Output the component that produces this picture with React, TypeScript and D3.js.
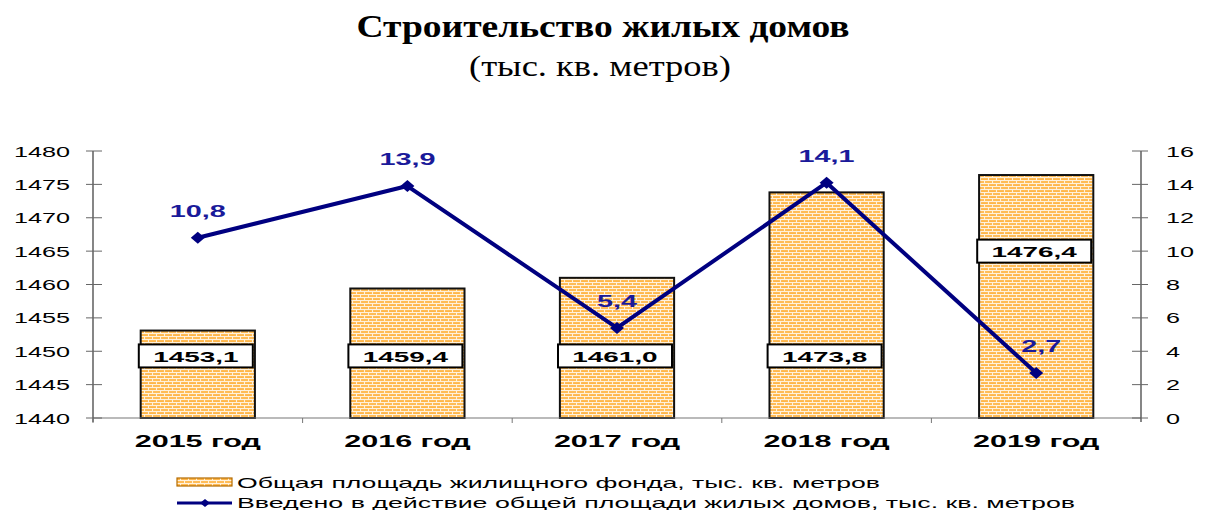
import React from "react";
import * as d3 from "d3";

const categories = ["2015 год", "2016 год", "2017 год", "2018 год", "2019 год"];
const totalArea = [1453.1, 1459.4, 1461.0, 1473.8, 1476.4];
const commissioned = [10.8, 13.9, 5.4, 14.1, 2.7];
const leftTicks = [1440, 1445, 1450, 1455, 1460, 1465, 1470, 1475, 1480];
const rightTicks = [0, 2, 4, 6, 8, 10, 12, 14, 16];
const barLabelLevel = [1449.3, 1449.3, 1449.3, 1449.3, 1465];
const legendLabels = [
  "Общая площадь жилищного фонда, тыс. кв. метров",
  "Введено в действие общей площади жилых домов, тыс. кв. метров",
];

const W = 1208;
const H = 510;
const left = 93;
const right = 1141;
const top = 151;
const bottom = 418;
const SANS = "'Liberation Sans', Arial, sans-serif";
const SERIF = "'Liberation Serif', 'Times New Roman', serif";
const NAVY = "#000080";

const fmt = (v: number) => d3.format(".1f")(v).replace(".", ",");

function SText(props: {
  x: number; y: number; sx?: number; size: number; anchor?: string;
  weight?: string | number; fill?: string; children: React.ReactNode;
}) {
  const { x, y, sx = 1.8, size, anchor = "middle", weight = "normal", fill = "#000", children } = props;
  return (
    <text
      transform={`translate(${x},${y}) scale(${sx},1)`}
      textAnchor={anchor}
      fontFamily={SANS}
      fontSize={size}
      fontWeight={weight}
      fill={fill}
    >
      {children}
    </text>
  );
}

export default function App() {
  const x = d3.scaleBand<string>().domain(categories).range([left, right]).paddingInner(0.455).paddingOuter(0.2275);
  const yL = d3.scaleLinear().domain([1440, 1480]).range([bottom, top]);
  const yR = d3.scaleLinear().domain([0, 16]).range([bottom, top]);
  const cx = (c: string) => (x(c) as number) + x.bandwidth() / 2;

  const line = d3
    .line<number>()
    .x((_, i) => cx(categories[i]))
    .y((d) => yR(d));

  const diamond = (px: number, py: number, w = 7, h = 6) =>
    `M${px - w},${py} L${px},${py - h} L${px + w},${py} L${px},${py + h} Z`;

  return (
    <svg width={W} height={H} style={{ position: "absolute", left: 0, top: 0, background: "#fff" }}>
      <defs>
        <pattern id="brick" width="8" height="6" patternUnits="userSpaceOnUse">
          <rect width="8" height="6" fill="#FFB648" />
          <line x1="0" y1="0.5" x2="8" y2="0.5" stroke="#FFF1DC" strokeWidth="1.2" />
          <line x1="0" y1="3.5" x2="8" y2="3.5" stroke="#FFF1DC" strokeWidth="1.2" />
          <line x1="0.5" y1="0" x2="0.5" y2="3" stroke="#FFF1DC" strokeWidth="1.1" />
          <line x1="4.5" y1="3" x2="4.5" y2="6" stroke="#FFF1DC" strokeWidth="1.1" />
        </pattern>
      </defs>

      {/* Title */}
      <text x={603} y={37} textAnchor="middle" fontFamily={SERIF} fontWeight="bold" fontSize={32}
        textLength={493} lengthAdjust="spacingAndGlyphs">
        Строительство жилых домов
      </text>
      <text x={600} y={76} textAnchor="middle" fontFamily={SERIF} fontSize={30}
        textLength={262} lengthAdjust="spacingAndGlyphs">
        (тыс. кв. метров)
      </text>

      {/* Bars */}
      {totalArea.map((v, i) => (
        <rect key={i} x={x(categories[i])} y={yL(v)} width={x.bandwidth()} height={bottom - yL(v)}
          fill="url(#brick)" stroke="#111" strokeWidth={2} />
      ))}

      {/* Axes */}
      <line x1={left} x2={right} y1={bottom} y2={bottom} stroke="#777" strokeWidth={1.2} />
      <line x1={left} x2={left} y1={top} y2={bottom + 4} stroke="#444" strokeWidth={1.3} />
      <line x1={right} x2={right} y1={top} y2={bottom + 4} stroke="#444" strokeWidth={1.3} />
      {leftTicks.map((t) => (
        <g key={"l" + t}>
          <line x1={left - 7} x2={left + 9} y1={yL(t)} y2={yL(t)} stroke="#666" strokeWidth={1} />
          <SText x={70} y={yL(t) + 5.5} size={14} anchor="end">{t}</SText>
        </g>
      ))}
      {rightTicks.map((t) => (
        <g key={"r" + t}>
          <line x1={right - 9} x2={right + 7} y1={yR(t)} y2={yR(t)} stroke="#666" strokeWidth={1} />
          <SText x={1166} y={yR(t) + 5.5} size={14} anchor="start">{t}</SText>
        </g>
      ))}
      {categories.map((c) => (
        <g key={c}>
          <line x1={(x(c) as number) - x.step() * x.paddingInner() / 2} x2={(x(c) as number) - x.step() * x.paddingInner() / 2}
            y1={bottom} y2={bottom + 5} stroke="#777" />
          <SText x={cx(c)} y={447} size={16.5} weight="bold" sx={1.85}>{c}</SText>
        </g>
      ))}

      {/* Bar labels */}
      {totalArea.map((v, i) => {
        const bx = cx(categories[i]) - 2;
        const by = yL(barLabelLevel[i]);
        return (
          <g key={"bl" + i}>
            <rect x={bx - 57} y={by - 11.5} width={114} height={23} fill="#fff" stroke="#000" strokeWidth={2} />
            <SText x={bx} y={by + 6} size={15.5} weight="bold" sx={1.8}>{fmt(v)}</SText>
          </g>
        );
      })}

      {/* Line */}
      <path d={line(commissioned) || ""} fill="none" stroke={NAVY} strokeWidth={4} strokeLinejoin="round" />
      {commissioned.map((v, i) => (
        <path key={"m" + i} d={diamond(cx(categories[i]), yR(v))} fill={NAVY} />
      ))}
      {commissioned.map((v, i) => (
        <SText key={"vl" + i} x={cx(categories[i]) + (i === 4 ? 5 : 0)} y={yR(v) - 21} size={16} weight="bold"
          fill="#1a1a9a" sx={1.8}>{fmt(v)}</SText>
      ))}

      {/* Legend */}
      <rect x={177} y={478} width={55} height={8} fill="url(#brick)" stroke="#b36b00" strokeWidth={1.2} />
      <text x={237} y={488} fontFamily={SANS} fontSize={15} textLength={643} lengthAdjust="spacingAndGlyphs">
        {legendLabels[0]}
      </text>
      <line x1={177} x2={232} y1={503} y2={503} stroke={NAVY} strokeWidth={3} />
      <path d={diamond(205, 503, 5, 4)} fill={NAVY} />
      <text x={237} y={508} fontFamily={SANS} fontSize={15} textLength={838} lengthAdjust="spacingAndGlyphs">
        {legendLabels[1]}
      </text>
    </svg>
  );
}
